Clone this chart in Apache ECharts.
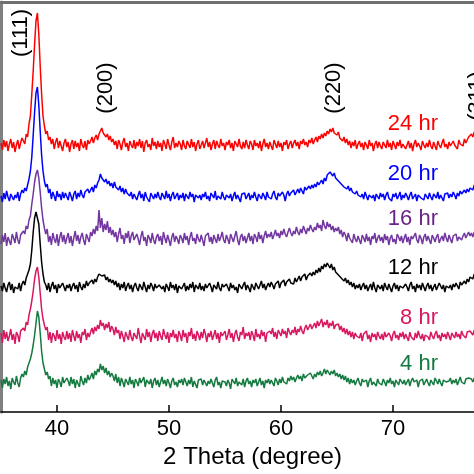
<!DOCTYPE html>
<html>
<head>
<meta charset="utf-8">
<script src="https://cdn.jsdelivr.net/npm/echarts@6/dist/echarts.min.js"></script>
<style>html,body{margin:0;padding:0;background:#fff}#c{width:474px;height:474px}</style>
</head>
<body>
<div id="c"></div>
<script>
const twoTheta = [
35,35.125,35.25,35.375,35.5,35.625,35.75,35.875,36,36.125,36.25,36.375,36.5,36.625,36.75,36.875,
37,37.125,37.25,37.375,37.5,37.625,37.75,37.875,38,38.125,38.25,38.375,38.5,38.625,38.75,38.875,
39,39.125,39.25,39.375,39.5,39.625,39.75,39.875,40,40.125,40.25,40.375,40.5,40.625,40.75,40.875,
41,41.125,41.25,41.375,41.5,41.625,41.75,41.875,42,42.125,42.25,42.375,42.5,42.625,42.75,42.875,
43,43.125,43.25,43.375,43.5,43.625,43.75,43.875,44,44.125,44.25,44.375,44.5,44.625,44.75,44.875,
45,45.125,45.25,45.375,45.5,45.625,45.75,45.875,46,46.125,46.25,46.375,46.5,46.625,46.75,46.875,
47,47.125,47.25,47.375,47.5,47.625,47.75,47.875,48,48.125,48.25,48.375,48.5,48.625,48.75,48.875,
49,49.125,49.25,49.375,49.5,49.625,49.75,49.875,50,50.125,50.25,50.375,50.5,50.625,50.75,50.875,
51,51.125,51.25,51.375,51.5,51.625,51.75,51.875,52,52.125,52.25,52.375,52.5,52.625,52.75,52.875,
53,53.125,53.25,53.375,53.5,53.625,53.75,53.875,54,54.125,54.25,54.375,54.5,54.625,54.75,54.875,
55,55.125,55.25,55.375,55.5,55.625,55.75,55.875,56,56.125,56.25,56.375,56.5,56.625,56.75,56.875,
57,57.125,57.25,57.375,57.5,57.625,57.75,57.875,58,58.125,58.25,58.375,58.5,58.625,58.75,58.875,
59,59.125,59.25,59.375,59.5,59.625,59.75,59.875,60,60.125,60.25,60.375,60.5,60.625,60.75,60.875,
61,61.125,61.25,61.375,61.5,61.625,61.75,61.875,62,62.125,62.25,62.375,62.5,62.625,62.75,62.875,
63,63.125,63.25,63.375,63.5,63.625,63.75,63.875,64,64.125,64.25,64.375,64.5,64.625,64.75,64.875,
65,65.125,65.25,65.375,65.5,65.625,65.75,65.875,66,66.125,66.25,66.375,66.5,66.625,66.75,66.875,
67,67.125,67.25,67.375,67.5,67.625,67.75,67.875,68,68.125,68.25,68.375,68.5,68.625,68.75,68.875,
69,69.125,69.25,69.375,69.5,69.625,69.75,69.875,70,70.125,70.25,70.375,70.5,70.625,70.75,70.875,
71,71.125,71.25,71.375,71.5,71.625,71.75,71.875,72,72.125,72.25,72.375,72.5,72.625,72.75,72.875,
73,73.125,73.25,73.375,73.5,73.625,73.75,73.875,74,74.125,74.25,74.375,74.5,74.625,74.75,74.875,
75,75.125,75.25,75.375,75.5,75.625,75.75,75.875,76,76.125,76.25,76.375,76.5,76.625,76.75,76.875,
77,77.125,77.25,77.375,77.5];

const int24 = [
3,-4,6,-1,5,-5,2,7,-2,4,-6,1,6,-3,3,8,
6,2,12,9,22,30,52,75,102,125,133,112,80,52,30,20,
12,15,6,9,2,7,-3,4,8,-2,5,0,-5,3,7,-1,
4,-6,2,6,-3,5,-1,3,-5,7,1,-2,5,-4,6,2,
5,9,3,8,11,6,12,10,18,13,15,9,12,6,10,4,
7,1,5,-3,6,2,-4,4,8,-1,3,-5,5,1,-2,6,
-3,4,0,7,-2,5,-6,3,6,-1,2,-4,8,0,4,-3,
5,-1,3,-5,6,2,-3,7,1,-4,4,9,-2,3,-1,5,
2,-4,6,0,-3,5,3,-2,7,-1,4,-5,2,6,-3,1,
5,-2,3,8,-1,4,-4,2,6,-3,5,1,-2,7,0,3,
-4,4,1,6,-2,3,-5,5,2,-1,7,0,-3,4,-2,6,
1,-3,5,2,-4,6,0,3,-2,5,-5,2,7,-1,3,-3,
4,0,-4,6,2,-2,5,-1,3,-5,4,1,6,-3,2,5,
-2,3,6,0,4,-3,5,2,7,1,4,-1,6,3,8,2,
6,9,4,10,7,12,8,13,10,15,12,17,14,18,13,15,
11,14,8,10,5,9,3,7,1,5,-2,4,0,6,-3,2,
5,-1,3,-4,4,1,-3,6,0,3,-5,2,5,-2,4,0,
-3,4,2,-2,6,-1,3,-4,5,1,-3,4,0,6,-2,2,
4,-3,1,5,-2,3,-5,2,6,-1,3,0,-4,5,1,-2,
3,-1,6,0,-3,4,2,-4,5,1,-2,3,7,-1,2,-3,
4,0,-2,5,1,3,-3,6,2,4,0,7,3,6,9,8,
12,9,14,11,13];

const int20 = [
1,-5,4,-2,6,0,-4,3,5,-3,2,-1,5,-4,3,7,
4,9,6,12,18,26,40,62,85,104,110,92,66,42,26,16,
10,13,4,8,-2,5,1,-4,6,0,3,-3,5,-1,4,2,
-3,5,1,-4,3,6,-2,4,0,7,2,-1,5,3,8,4,
7,10,5,12,9,14,17,23,19,21,15,18,13,16,11,14,
9,15,10,12,7,11,5,9,3,8,4,6,1,5,-2,3,
4,-3,2,6,-1,3,-4,5,0,2,-5,4,1,-2,3,-1,
5,0,-3,4,2,-2,6,-1,3,-4,2,5,-2,1,4,-3,
2,-1,4,-4,3,1,-2,5,0,3,-5,2,4,-1,2,-3,
3,0,5,-2,1,-4,4,2,-1,6,-3,1,3,-2,5,0,
-3,2,4,-1,3,-4,1,5,-2,2,0,-5,3,1,4,-2,
1,4,-3,2,-1,5,0,-4,3,2,-2,4,1,-3,5,0,
2,-2,3,6,0,-3,4,1,-1,5,2,-4,3,6,1,4,
3,7,2,5,8,4,9,6,3,10,7,5,11,8,12,9,
13,10,15,12,14,17,13,19,16,22,20,25,23,21,24,19,
20,16,18,13,15,10,12,8,11,6,9,5,7,3,6,2,
4,0,3,-2,5,1,-3,2,4,-1,2,-4,3,1,-2,4,
0,3,-3,2,5,-1,1,-4,3,0,4,-2,1,5,-3,2,
-1,4,1,-3,2,5,-2,0,3,-4,2,4,-1,1,-3,3,
2,-2,4,0,-3,3,1,-1,5,-2,2,0,-4,3,1,4,
-1,3,0,5,2,-2,4,1,6,3,2,7,4,8,5,9,
11,7,12,9,10];

const int16 = [
-4,5,-2,7,-6,3,1,-5,6,2,-3,8,0,-4,5,3,
9,6,14,11,20,24,36,46,58,66,70,62,48,32,20,12,
6,11,-2,4,-5,7,1,-3,6,-6,3,8,-2,5,-4,2,
7,-3,4,-6,2,9,-1,5,-4,3,7,0,-5,6,2,-2,
8,4,11,6,14,9,30,12,22,8,16,10,19,7,13,5,
10,3,8,-2,6,12,1,5,-4,7,2,9,-3,4,8,0,
-2,6,1,-5,4,9,-1,3,-6,5,2,-3,7,0,-4,3,
6,-1,4,-5,8,2,-3,5,0,-6,3,7,-2,4,1,-4,
5,2,-3,7,0,4,-5,3,8,-1,2,-4,6,1,-2,5,
0,-6,4,2,7,-2,3,-4,5,1,-3,6,-1,3,8,0,
-3,5,1,-4,6,2,-2,4,9,0,-5,3,6,-1,4,-3,
2,7,-1,4,-4,6,3,-2,8,1,5,-3,4,9,2,6,
3,8,1,5,10,4,7,2,9,5,11,6,3,8,12,7,
4,9,6,13,8,5,11,7,14,10,6,12,9,15,11,8,
13,10,17,12,15,9,20,14,11,18,13,16,10,14,8,12,
9,13,6,10,3,8,5,-1,7,2,4,-3,6,1,-2,4,
0,-4,5,2,-2,6,-1,3,-5,4,1,7,-3,2,5,-1,
3,-3,6,0,4,-5,2,5,-2,1,-4,6,3,-1,4,-3,
2,6,-2,3,-5,4,1,-1,7,0,-3,5,2,-4,3,6,
-1,4,0,-4,5,2,-2,3,6,-3,1,4,-1,7,2,-2,
5,1,-3,4,2,6,-1,3,5,0,4,7,2,5,8,4,
7,3,8,5,6];

const int12 = [
2,-3,5,0,-4,3,6,-2,4,-5,1,3,-1,5,-3,4,
7,3,10,8,18,24,38,56,70,76,78,64,44,26,14,6,
3,-2,5,-4,2,6,-1,3,-5,4,0,-2,5,1,-3,3,
0,4,-3,2,5,-1,3,-4,6,1,-2,4,0,7,2,5,
3,8,4,9,6,11,14,16,12,10,13,8,11,6,9,5,
8,3,7,1,5,-2,4,0,6,-3,2,5,-1,3,-4,2,
5,0,-3,4,2,-2,6,1,-4,3,-1,5,2,-3,4,0,
-2,3,5,-1,2,-4,4,1,-3,6,0,3,-2,4,-5,2,
4,-1,1,5,-3,2,-2,4,0,6,-4,3,1,-1,5,-2,
2,-3,4,0,-2,5,1,-4,3,2,-1,6,0,-3,4,1,
-1,4,2,-3,5,0,3,-2,1,-5,4,2,-1,3,6,-2,
3,0,-4,4,1,-2,5,2,-1,3,7,0,4,-2,2,5,
1,6,3,-1,4,2,7,0,5,3,8,2,6,4,9,5,
7,4,10,6,8,12,7,11,9,14,8,12,10,15,12,16,
13,18,15,20,16,22,19,24,21,25,23,20,24,18,21,16,
18,13,15,10,12,7,10,5,8,3,6,1,5,-1,3,0,
4,-2,2,5,-1,3,-3,1,4,-2,6,0,-4,3,1,-1,
3,-3,5,1,-2,4,0,-4,2,5,-1,3,-3,2,4,0,
-2,4,1,-3,3,6,-1,2,-4,4,0,3,-2,5,1,-3,
2,5,-1,3,-3,1,4,-2,0,5,2,-1,3,-4,2,4,
0,3,-2,4,1,5,2,-1,6,3,1,7,4,9,6,11,
13,9,14,10,12];

const int8 = [
4,-6,7,-2,5,-4,1,8,-3,3,-7,5,2,-5,6,4,
9,6,15,12,22,28,36,46,58,66,70,60,44,28,18,12,
7,10,-3,5,-6,4,1,-4,7,-2,3,-7,5,0,-3,6,
-2,4,-5,7,1,-4,6,-1,3,-6,5,2,8,-3,4,0,
5,9,3,10,6,12,8,17,11,14,7,13,9,15,5,11,
8,2,10,4,7,-2,6,1,-5,5,3,-3,7,0,-4,4,
6,-2,9,1,-6,4,2,-3,8,0,5,-5,3,7,-1,4,
-4,6,1,-3,8,2,-2,5,-6,4,0,7,-1,3,-5,6,
2,-4,7,0,4,-6,5,1,9,-2,3,-4,6,2,-3,5,
-1,8,3,-5,4,0,6,-3,2,7,-2,4,-6,5,1,3,
6,-3,2,8,-1,4,-5,3,7,0,-4,5,2,10,-2,4,
1,5,-3,6,2,-4,8,0,3,-2,7,1,5,-5,4,2,
6,3,9,0,5,-2,7,4,1,8,3,6,-1,9,5,2,
7,4,10,2,8,5,11,6,3,9,12,7,5,13,8,10,
14,9,16,11,13,18,10,15,12,17,9,14,11,16,8,12,
10,13,7,11,5,9,3,8,2,6,0,5,-2,4,1,3,
-1,4,-4,3,1,6,-2,2,-5,4,0,3,-3,5,1,-2,
3,-3,5,0,-2,4,1,-4,3,6,-1,2,-3,4,0,5,
-2,3,1,-4,5,0,2,-3,4,-1,6,1,-2,3,-4,2,
4,0,-3,5,1,-2,3,6,-1,2,-4,4,0,3,-2,5,
1,-3,4,2,-1,5,0,3,-2,6,2,4,-1,5,3,6,
4,2,7,3,5];

const int4 = [
3,-5,4,-1,6,-3,2,-6,5,1,-2,7,0,-4,5,9,
6,12,8,16,20,24,30,38,48,60,72,66,50,32,20,14,
8,11,4,7,-3,5,-1,3,-5,4,1,-4,6,0,-2,5,
2,-3,6,-1,4,-5,3,1,-4,7,2,-2,5,0,8,3,
6,10,4,12,8,14,11,19,13,17,10,15,8,12,6,10,
7,2,9,0,6,-3,5,1,-4,4,2,-2,6,-1,3,-5,
4,1,-3,5,0,-2,6,-4,3,2,-1,4,-5,2,5,-2,
3,-4,1,6,-1,3,-3,4,0,-5,2,5,-2,1,-4,3,
0,4,-2,5,1,-3,3,-1,6,-4,2,0,-5,3,1,4,
-2,3,5,-3,2,-1,4,0,-4,3,6,-2,1,-5,2,4,
1,-3,3,0,-6,4,2,-1,5,-3,1,3,-2,4,-4,2,
5,-1,2,-4,3,0,4,-3,1,5,-2,2,-5,3,0,4,
-1,3,1,-3,5,2,-2,4,0,6,1,3,-1,5,2,7,
3,6,1,5,8,4,7,2,9,5,3,8,6,10,7,4,
9,6,11,8,12,7,10,14,9,13,11,8,12,9,13,7,
10,6,9,4,8,3,7,1,5,-1,4,0,3,-2,2,5,
0,-3,4,1,-1,3,-4,2,5,-2,1,3,-3,4,0,2,
-2,4,1,-3,3,0,5,-1,2,-4,3,1,-2,4,2,-1,
3,-2,0,4,-3,2,5,1,-1,3,-4,2,0,4,-2,1,
4,0,-3,3,1,-2,5,2,-1,4,0,-3,3,5,1,-1,
2,5,-1,3,0,4,-2,2,6,1,3,-1,4,2,5,3,
4,1,5,2,3];

const seriesNames = ['24 hr','20 hr','16 hr','12 hr','8 hr','4 hr'];
const seriesValues = [int24, int20, int16, int12, int8, int4];
const stackOffset = [266, 215, 172, 124, 75, 29];
const tickLabels = [40, 50, 60, 70];
const peakLabels = ['(111)','(200)','(220)','(311)'];

const colors = ['#ff0000','#0000ff','#7236a0','#000000','#d81760','#147a40'];
const textColors = ['#ff0000','#0000ff','#6a2488','#000000','#d81760','#147a40'];
const FONT = '"Liberation Sans", Arial, sans-serif';

const chart = echarts.init(document.getElementById('c'), null, {renderer:'canvas'});

const series = seriesValues.map((vals, k) => ({
  name: seriesNames[k],
  type: 'line',
  showSymbol: false,
  symbol: 'none',
  animation: false,
  lineStyle: {color: colors[k], width: 1.5},
  data: twoTheta.map((a, i) => [a, vals[i] + stackOffset[k]])
}));

const seriesLabelPos = [[438,124],[438,174],[438,219],[438,268],[438,318],[438,364]];
const peakLabelPos = [[21,33],[106,88],[334,88],[477,96]];

const graphic = [];
seriesNames.forEach((n, k) => {
  graphic.push({type:'text', x: seriesLabelPos[k][0], y: seriesLabelPos[k][1],
    style:{text:n, font:'22px ' + FONT, fill:textColors[k], textAlign:'right', textVerticalAlign:'middle'}});
});
peakLabels.forEach((t, k) => {
  graphic.push({type:'text', x: peakLabelPos[k][0], y: peakLabelPos[k][1], rotation: Math.PI/2,
    style:{text:t, font:'22px ' + FONT, fill:'#000', textAlign:'center', textVerticalAlign:'middle'}});
});

chart.setOption({
  animation: false,
  grid: {left: 1, right: 0, top: 2, bottom: 62, containLabel: false},
  xAxis: [{
    type: 'value', min: 35, max: 77.23, position: 'bottom',
    name: '2 Theta (degree)', nameLocation: 'middle', nameGap: 33,
    nameTextStyle: {fontSize: 24, color: '#000', fontFamily: FONT, padding: [0, 0, 0, 30]},
    axisLine: {show: true, onZero: false, lineStyle: {color: '#000', width: 1.5}},
    axisTick: {show: true, inside: true, length: 7, customValues: tickLabels, lineStyle: {color: '#000', width: 1.5}},
    axisLabel: {show: true, customValues: tickLabels, fontSize: 22, color: '#000', fontFamily: FONT, margin: 6},
    splitLine: {show: false}
  }, {
    type: 'value', min: 35, max: 77.23, position: 'top',
    axisLine: {show: true, onZero: false, lineStyle: {color: '#707070', width: 3}},
    axisTick: {show: false}, axisLabel: {show: false}, splitLine: {show: false}
  }],
  yAxis: {
    type: 'value', min: 0, max: 410,
    axisLine: {show: true, onZero: false, lineStyle: {color: '#808080', width: 3}},
    axisTick: {show: false}, axisLabel: {show: false}, splitLine: {show: false}
  },
  series: series,
  graphic: graphic
});
</script>
</body>
</html>
